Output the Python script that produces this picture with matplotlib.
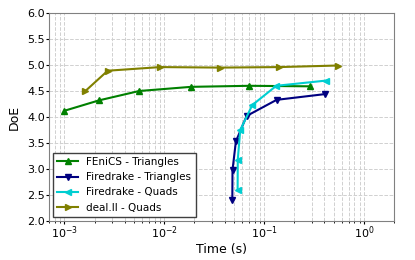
import matplotlib
matplotlib.use("Agg")
import matplotlib.pyplot as plt

fenics_t = [1.0e-3, 2.22e-3, 5.6e-3, 0.0185, 0.0708, 0.286]
fenics_doe = [4.12, 4.32, 4.50, 4.58, 4.60, 4.59]

fd_tri_t = [0.0479, 0.0481, 0.052, 0.0666, 0.133, 0.404]
fd_tri_doe = [2.41, 2.98, 3.53, 4.02, 4.33, 4.44]

fd_quad_t = [0.0541, 0.0543, 0.0575, 0.0759, 0.132, 0.414]
fd_quad_doe = [2.60, 3.18, 3.75, 4.23, 4.60, 4.70]

deal_t = [1.62e-3, 2.71e-3, 9.1e-3, 0.0363, 0.141, 0.541]
deal_doe = [4.50, 4.89, 4.96, 4.95, 4.96, 4.99]

fig = plt.figure(figsize=(4.15, 2.6), dpi=100)
ax = fig.add_axes([0.118, 0.15, 0.832, 0.80])

ax.plot(fenics_t, fenics_doe, color='g', marker='^', ms=4, lw=1.5, label='FEniCS - Triangles')
ax.plot(fd_tri_t, fd_tri_doe, color='navy', marker='v', ms=4, lw=1.5, label='Firedrake - Triangles')
ax.plot(fd_quad_t, fd_quad_doe, color='darkturquoise', marker='<', ms=4, lw=1.5, label='Firedrake - Quads')
ax.plot(deal_t, deal_doe, color='olive', marker='>', ms=4, lw=1.5, label='deal.II - Quads')

ax.set_xscale('log')
ax.set_xlim(7e-4, 2)
ax.set_ylim(2.0, 6.0)
ax.set_yticks([2.0, 2.5, 3.0, 3.5, 4.0, 4.5, 5.0, 5.5, 6.0])
ax.grid(True, which='both', ls='--', color='#d0d0d0', lw=0.7)
ax.tick_params(which='major', labelsize=8, colors='black', length=2, pad=0.8)
ax.tick_params(which='minor', length=1.2)
for s in ax.spines.values():
    s.set_color('#808080')
ax.set_xlabel('Time (s)', fontsize=9, labelpad=1)
ax.set_ylabel('DoE', fontsize=9, labelpad=5)
leg = ax.legend(loc='lower left', fontsize=7.5, frameon=True, fancybox=False, framealpha=1,
                edgecolor='#404040', borderaxespad=0.4)
fig.savefig('out.png', dpi=100)
